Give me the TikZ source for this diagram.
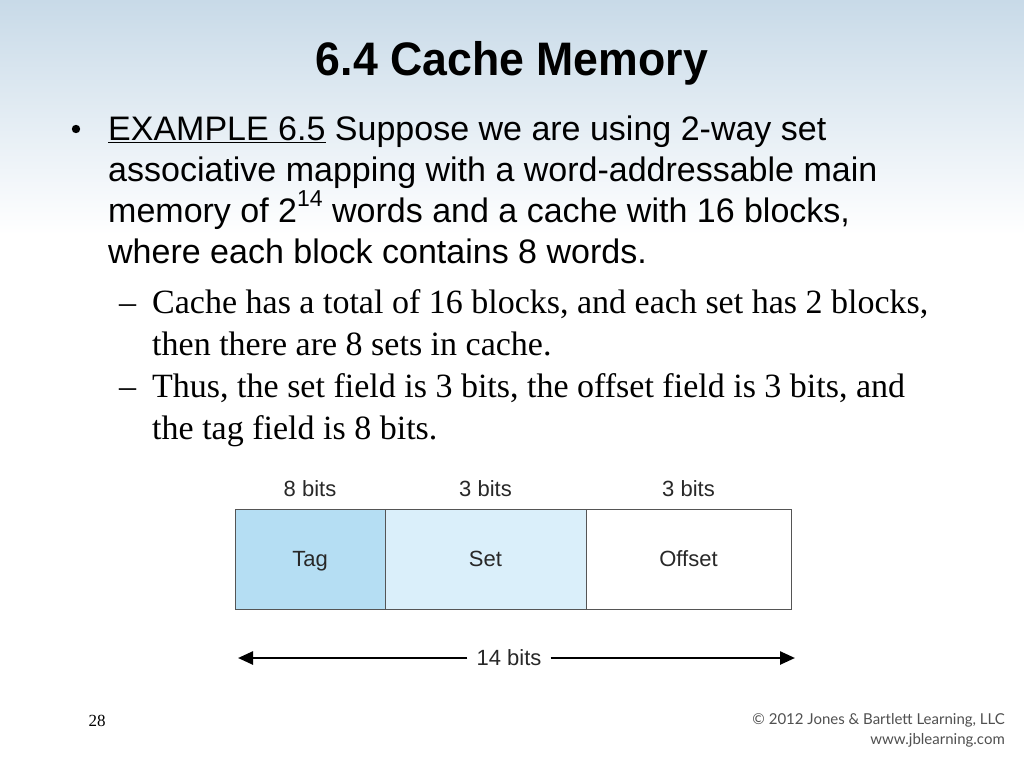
\documentclass[tikz,border=0pt]{standalone}
\usepackage{fontspec}
\setmainfont{Liberation Sans}
\newfontfamily\timesfont{Liberation Serif}
\newfontfamily\notefont{Lato}
\usepackage{tikz}
\usetikzlibrary{arrows.meta,positioning}

\definecolor{topblue}{RGB}{200,218,232}
\definecolor{tagblue}{RGB}{181,222,243}
\definecolor{setblue}{RGB}{218,239,250}
\definecolor{edgegray}{RGB}{85,85,85}
\definecolor{notegray}{RGB}{80,80,80}
\definecolor{textgray}{RGB}{40,40,40}

\begin{document}
\begin{tikzpicture}[x=1pt,y=-1pt,
		body/.style={anchor=base west,inner sep=0pt,font=\fontsize{34}{34}\selectfont},
		sub/.style={anchor=base west,inner sep=0pt,font=\timesfont\fontsize{34}{34}\selectfont},
		field/.style={draw=edgegray,line width=1pt,anchor=north west,inner sep=0pt,outer sep=0pt,minimum height=100pt,text height=15pt,text depth=0pt,text=textgray,font=\fontsize{22}{22}\selectfont},
		lbl/.style={inner sep=0pt,text=textgray,font=\fontsize{22}{22}\selectfont},
		arr/.style={-{Triangle[length=15pt,width=13pt]},line width=2.5pt}]
		\useasboundingbox (0,0) rectangle (1024,768);
		\fill[white] (0,0) rectangle (1024,768);
		\shade[top color=topblue,bottom color=white] (0,0) rectangle (1024,235);
		\node[anchor=base,inner sep=0pt,font=\bfseries\fontsize{47}{47}\selectfont] (title) at (512,75) {\scalebox{0.95}[1]{6.4 Cache Memory}};
		\fill (76,129) circle (4.2pt);
		\node[body] (line1) at (108,140) {\underline{EXAMPLE 6.5} Suppose we are using 2-way set};
		\node[body] (line2) at (108,181) {associative mapping with a word-addressable main};
		\node[body] (line3) at (108,222) {memory of 2\raisebox{0.45em}{\fontsize{23}{23}\selectfont 14} words and a cache with 16 blocks,};
		\node[body] (line4) at (108,263) {where each block contains 8 words.};
		\node[sub] (dash1) at (119,313) {\textendash};
		\node[sub] (sub1) at (152,313) {Cache has a total of 16 blocks, and each set has 2 blocks,};
		\node[sub] (sub2) at (152,355) {then there are 8 sets in cache.};
		\node[sub] (dash2) at (119,397) {\textendash};
		\node[sub] (sub3) at (152,397) {Thus, the set field is 3 bits, the offset field is 3 bits, and};
		\node[sub] (sub4) at (152,439) {the tag field is 8 bits.};
		\node[field,fill=tagblue,minimum width=150pt] (tag) at (235,509) {Tag};
		\node[field,fill=setblue,minimum width=201pt] (set) at (385,509) {Set};
		\node[field,fill=white,minimum width=205pt] (offset) at (586,509) {Offset};
		\node[lbl] (tagbits) at ([yshift=20pt]tag.north) {8 bits};
		\node[lbl] (setbits) at ([yshift=20pt]set.north) {3 bits};
		\node[lbl] (offbits) at ([yshift=20pt]offset.north) {3 bits};
		\node[lbl,inner sep=9pt] (total) at (509,658) {14 bits};
		\coordinate (leftend) at (238,658);
		\coordinate (rightend) at (795,658);
		\draw[arr] (total) -- (leftend);
		\draw[arr] (total) -- (rightend);
		\node[anchor=base,inner sep=0pt,font=\timesfont\fontsize{17}{17}\selectfont] (page) at (97,726) {28};
		\node[anchor=base east,inner sep=0pt,text=notegray,font=\notefont\fontsize{15}{15}\selectfont] (copy) at (1005,724) {\textcopyright{} 2012 Jones \& Bartlett Learning, LLC};
		\node[anchor=base east,inner sep=0pt,text=notegray,font=\notefont\fontsize{15}{15}\selectfont] (web) at (1005,744) {www.jblearning.com};
	\end{tikzpicture}
\end{document}
